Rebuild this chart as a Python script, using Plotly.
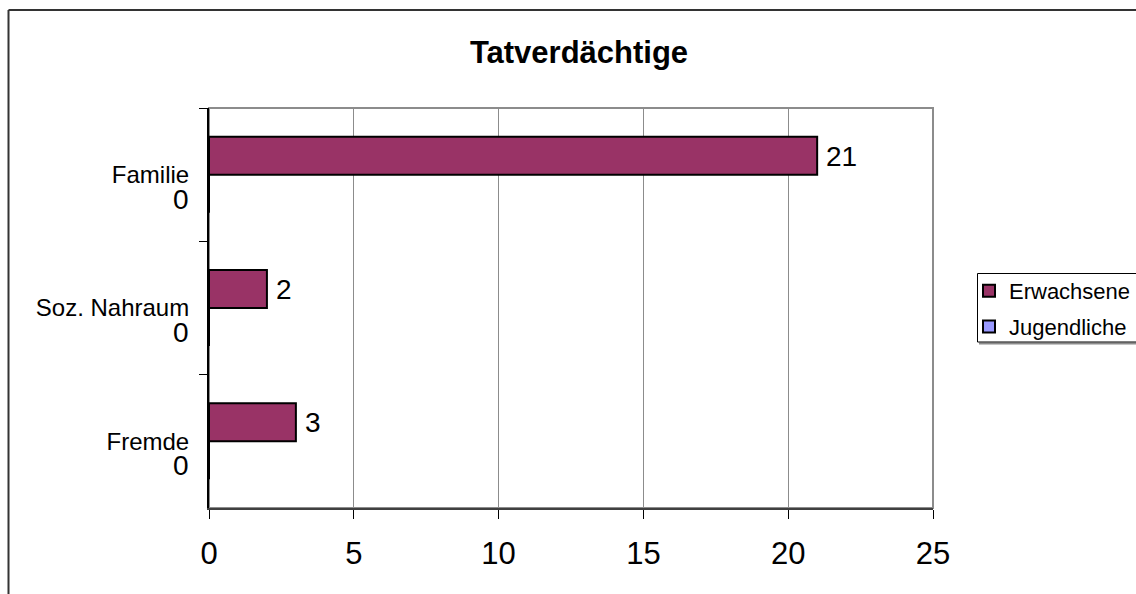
import plotly.graph_objects as go

# ---- data ----
categories = ["Familie", "Soz. Nahraum", "Fremde"]
erwachsene = [21, 2, 3]
jugendliche = [0, 0, 0]
series_names = ["Erwachsene", "Jugendliche"]
x_ticks = [0, 5, 10, 15, 20, 25]
title_text = "Tatverdächtige"

# ---- geometry (pixels) ----
W, H = 1136, 594
L, R, T, B = 209, 933, 108, 508


def px_x(p):
    return (p - L) / (R - L)


def px_y(p):
    return (B - p) / (B - T)


FONT = "Arial, 'Liberation Sans', sans-serif"

fig = go.Figure()
fig.add_trace(go.Bar(
    y=categories, x=erwachsene, name=series_names[0], orientation="h",
    marker=dict(color="#993366", line=dict(color="black", width=2)),
    legendgroup="g1", hoverinfo="x+y",
))
fig.add_trace(go.Bar(
    y=categories, x=jugendliche, name=series_names[1], orientation="h",
    marker=dict(color="#9999FF", line=dict(color="black", width=2)),
    legendgroup="g2", hoverinfo="x+y",
))

annotations = []
for cat, v in zip(categories, erwachsene):
    annotations.append(dict(
        x=v, y=cat, xref="x", yref="y", text=str(v), showarrow=False,
        xanchor="left", yanchor="middle", xshift=7, yshift=18.5,
        font=dict(family=FONT, size=28, color="black"),
    ))
for cat, v in zip(categories, jugendliche):
    annotations.append(dict(
        x=v, y=cat, xref="x", yref="y", text=str(v), showarrow=False,
        xanchor="right", yanchor="middle", xshift=-18, yshift=-24.5,
        font=dict(family=FONT, size=28, color="black"),
    ))

shapes = [
    # plot-area border (grey)
    dict(type="rect", xref="paper", yref="paper", x0=0, x1=1, y0=0, y1=1,
         line=dict(color="#8c8c8c", width=2), layer="below"),
    # outer chart frame (extends beyond the canvas on right / bottom)
    dict(type="line", xref="paper", yref="paper",
         x0=px_x(8.5), x1=px_x(8.5), y0=px_y(10), y1=px_y(620),
         line=dict(color="#333333", width=2)),
    dict(type="line", xref="paper", yref="paper",
         x0=px_x(8.5), x1=px_x(1160), y0=px_y(10), y1=px_y(10),
         line=dict(color="#333333", width=2)),
    # legend box shadow + box
    dict(type="line", xref="paper", yref="paper",
         x0=px_x(979), x1=px_x(1160), y0=px_y(343.5), y1=px_y(343.5),
         line=dict(color="#8c8c8c", width=2)),
    dict(type="rect", xref="paper", yref="paper",
         x0=px_x(977.5), x1=px_x(1160), y0=px_y(273.5), y1=px_y(342),
         line=dict(color="black", width=1), fillcolor="white"),
]

fig.update_layout(
    width=W, height=H,
    margin=dict(l=L, r=W - R, t=T, b=H - B, pad=0, autoexpand=False),
    paper_bgcolor="white", plot_bgcolor="white",
    font=dict(family=FONT, color="black"),
    barmode="group", bargap=0.43, bargroupgap=0,
    title=dict(
        text="<b>" + title_text + "</b>",
        font=dict(family=FONT, size=31, color="black"),
        x=579 / W, xref="container", xanchor="center",
        y=1 - 52 / H, yref="container", yanchor="middle",
    ),
    xaxis=dict(
        range=[0, 25], tickvals=x_ticks, ticktext=[str(t) for t in x_ticks],
        showgrid=True, gridcolor="#8c8c8c", gridwidth=1,
        zeroline=False, showline=True, linecolor="#404040", linewidth=2,
        ticks="outside", ticklen=9, tickwidth=1, tickcolor="black",
        tickfont=dict(family=FONT, size=31, color="black"),
        ticklabelstandoff=8, fixedrange=True, automargin=False,
    ),
    yaxis=dict(
        type="category", categoryorder="array", categoryarray=categories,
        autorange="reversed", showgrid=False, zeroline=False,
        showline=True, linecolor="black", linewidth=2,
        ticks="outside", tickson="boundaries", ticklen=8, tickwidth=1,
        tickcolor="black",
        tickfont=dict(family=FONT, size=24, color="black"),
        ticklabelstandoff=13, fixedrange=True, automargin=False,
    ),
    legend=dict(
        x=969 / W, y=1 - 270 / H, xanchor="left", yanchor="top",
        xref="container", yref="container",
        bgcolor="rgba(0,0,0,0)", borderwidth=0,
        font=dict(family=FONT, size=22, color="black"),
        traceorder="grouped", tracegroupgap=4,
    ),
    annotations=annotations,
    shapes=shapes,
    showlegend=True,
)

fig.write_html(
    "out.html",
    config={"displayModeBar": False},
    post_script="document.body.style.margin='0';document.body.style.overflow='hidden';",
)
